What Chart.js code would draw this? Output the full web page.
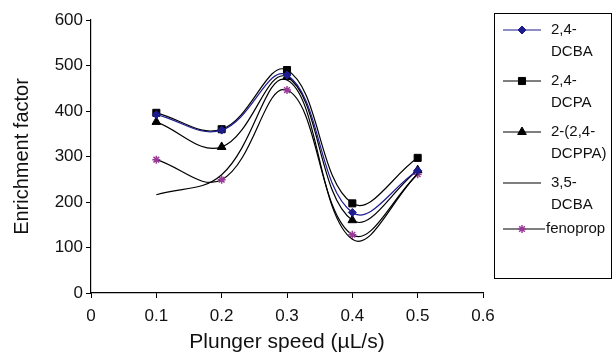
<!DOCTYPE html>
<html><head><meta charset="utf-8">
<script src="https://cdn.jsdelivr.net/npm/chart.js@4"></script>
<style>html,body{margin:0;padding:0;background:#fff}#wrap{width:616px;height:355px}</style>
</head><body><div id="wrap"><canvas id="c" width="616" height="355"></canvas></div>
<script>
const speeds = [0.1, 0.2, 0.3, 0.4, 0.5];
const dcba24 = [392, 358, 479, 177, 269];
const dcpa24 = [396, 360, 490, 197, 297];
const dcppa = [376, 321, 475, 160, 270];
const dcba35 = [216, 260, 468, 118, 262];
const fenoprop = [293, 249, 446, 128, 261];
const seriesNames = [["2,4-","DCBA"],["2,4-","DCPA"],["2-(2,4-","DCPPA)"],["3,5-","DCBA"],["fenoprop"]];
const xTicks = [0, 0.1, 0.2, 0.3, 0.4, 0.5, 0.6];
const yTicks = [0, 100, 200, 300, 400, 500, 600];

const FONT = "'Liberation Sans', Arial, sans-serif";
const toPts = arr => arr.map((v,i)=>({x:speeds[i], y:v}));
const NAVY = '#1c1c8f', PURPLE = '#9a3a9a';

const styles = [
  {color:NAVY, pt:'rectRot', r:4, pc:NAVY},
  {color:'#000', pt:'rect', r:5, pc:'#000'},
  {color:'#000', pt:'triangle', r:5, pc:'#000'},
  {color:'#000', pt:'circle', r:0, pc:'#000'},
  {color:'#000', pt:'star', r:4, pc:PURPLE}
];
const values = [dcba24, dcpa24, dcppa, dcba35, fenoprop];

const datasets = values.map((v,i)=>({
  label: seriesNames[i].join(''),
  data: toPts(v),
  borderColor: styles[i].color,
  borderWidth: 1.2,
  tension: 0.4,
  pointStyle: styles[i].pt,
  pointRadius: styles[i].r,
  pointBackgroundColor: styles[i].pc,
  pointBorderColor: styles[i].pc,
  pointBorderWidth: i===4 ? 1.5 : 1,
  fill: false
}));

const legendPlugin = {
  id:'boxLegend',
  afterDraw(chart){
    const ctx = chart.ctx;
    ctx.save();
    ctx.strokeStyle='#000'; ctx.lineWidth=1;
    ctx.strokeRect(494.5,13.5,117,265);
    const ys=[30,81,132,183,229];
    ctx.font = "15px "+FONT;
    ctx.textBaseline='middle';
    ctx.fillStyle='#111';
    seriesNames.forEach((lines,i)=>{
      const y=ys[i];
      const st=styles[i];
      const x2 = i===4 ? 545 : 541;
      ctx.strokeStyle=st.color; ctx.lineWidth=1.2;
      ctx.beginPath(); ctx.moveTo(503,y); ctx.lineTo(x2,y); ctx.stroke();
      if(st.r>0){
        ctx.fillStyle=st.pc; ctx.strokeStyle=st.pc; ctx.lineWidth= i===4?1.5:1;
        Chart.helpers.drawPoint(ctx,{pointStyle:st.pt, radius:st.r, rotation:0, borderWidth: i===4?1.5:1}, 522, y);
      }
      ctx.fillStyle='#111';
      const tx = i===4 ? 546 : 551;
      lines.forEach((t,j)=>ctx.fillText(t, tx, y + j*22));
    });
    ctx.restore();
  }
};

new Chart(document.getElementById('c'), {
  type:'line',
  data:{datasets},
  options:{
    responsive:false, animation:false,
    layout:{padding:{top:20,right:133,left:10,bottom:0}},
    plugins:{legend:{display:false}, tooltip:{enabled:false}},
    scales:{
      x:{type:'linear', min:0, max:0.6,
        afterBuildTicks(s){ s.ticks = xTicks.map(v=>({value:v})); },
        afterFit(s){ s.height = 62; },
        ticks:{color:'#111', font:{family:FONT,size:17}, padding:8,
          callback:v=>String(Math.round(v*10)/10)},
        grid:{display:true, drawOnChartArea:false, color:'#000', tickLength:5, lineWidth:1},
        border:{color:'#000', width:1.2},
        title:{display:true, text:'Plunger speed (\u00b5L/s)', color:'#111', font:{family:FONT,size:21}, padding:0}
      },
      y:{min:0, max:600,
        afterBuildTicks(s){ s.ticks = yTicks.map(v=>({value:v})); },
        afterFit(s){ s.width = 81; },
        ticks:{color:'#111', font:{family:FONT,size:17}, padding:3},
        grid:{display:true, drawOnChartArea:false, color:'#000', tickLength:5, lineWidth:1},
        border:{color:'#000', width:1.2},
        title:{display:true, text:'Enrichment factor', color:'#111', font:{family:FONT,size:20}, padding:0}
      }
    }
  },
  plugins:[legendPlugin]
});
</script></body></html>
